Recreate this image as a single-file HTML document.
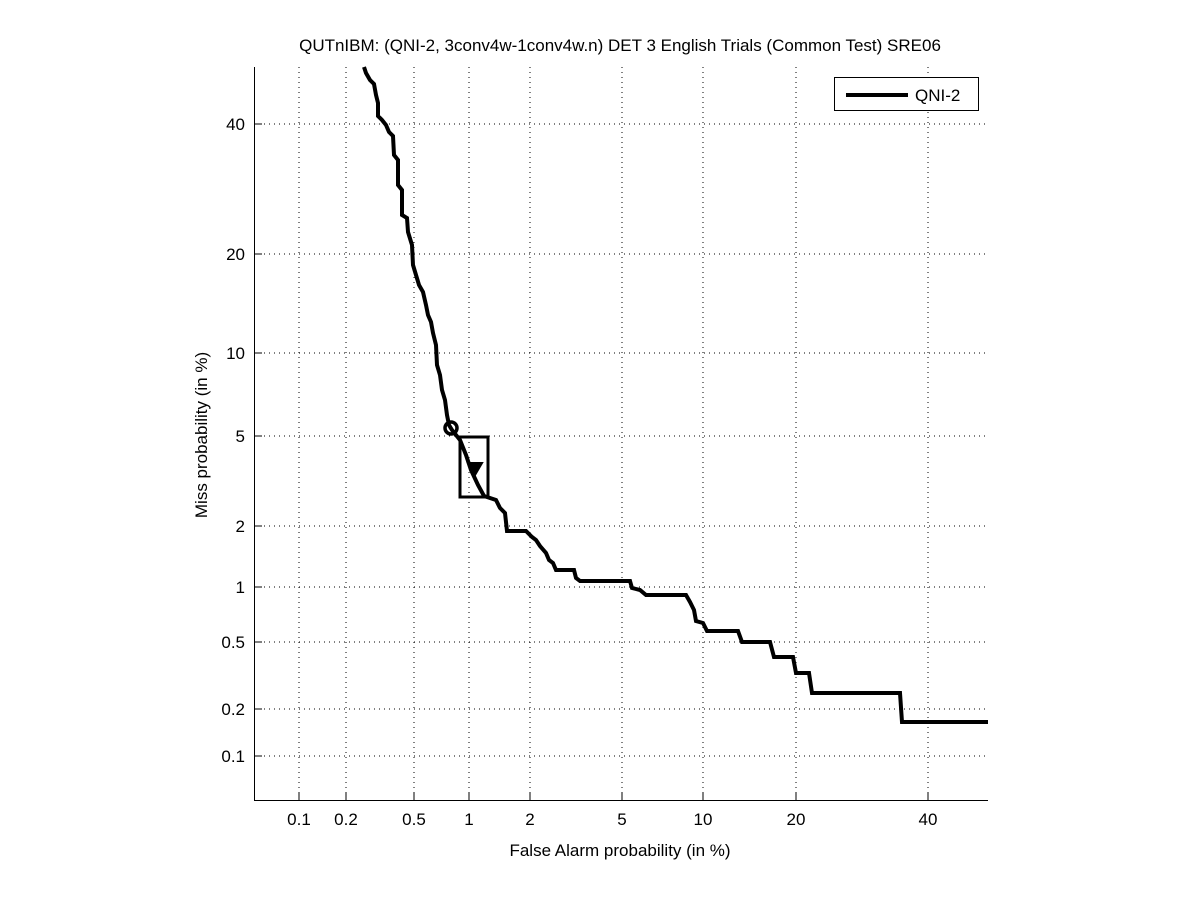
<!DOCTYPE html>
<html><head><style>body{margin:0;background:#fff}svg{display:block}text{font-family:"Liberation Sans",sans-serif;fill:#000}</style></head><body>
<svg width="1201" height="900" viewBox="0 0 1201 900">
<rect width="1201" height="900" fill="#fff"/>
<g stroke="#000" stroke-width="1" stroke-dasharray="1,4">
<line x1="299" y1="67" x2="299" y2="801"/><line x1="346" y1="67" x2="346" y2="801"/><line x1="414" y1="67" x2="414" y2="801"/><line x1="469" y1="67" x2="469" y2="801"/><line x1="530" y1="67" x2="530" y2="801"/><line x1="622" y1="67" x2="622" y2="801"/><line x1="703" y1="67" x2="703" y2="801"/><line x1="796" y1="67" x2="796" y2="801"/><line x1="928" y1="67" x2="928" y2="801"/>
<line x1="254" y1="124" x2="988" y2="124"/><line x1="254" y1="254" x2="988" y2="254"/><line x1="254" y1="353" x2="988" y2="353"/><line x1="254" y1="436" x2="988" y2="436"/><line x1="254" y1="526" x2="988" y2="526"/><line x1="254" y1="587" x2="988" y2="587"/><line x1="254" y1="642" x2="988" y2="642"/><line x1="254" y1="709" x2="988" y2="709"/><line x1="254" y1="756" x2="988" y2="756"/>
</g>
<g stroke="#000" stroke-width="1">
<line x1="254.5" y1="67" x2="254.5" y2="801"/><line x1="254" y1="800.5" x2="988" y2="800.5"/>
<line x1="299" y1="793" x2="299" y2="801"/><line x1="346" y1="793" x2="346" y2="801"/><line x1="414" y1="793" x2="414" y2="801"/><line x1="469" y1="793" x2="469" y2="801"/><line x1="530" y1="793" x2="530" y2="801"/><line x1="622" y1="793" x2="622" y2="801"/><line x1="703" y1="793" x2="703" y2="801"/><line x1="796" y1="793" x2="796" y2="801"/><line x1="928" y1="793" x2="928" y2="801"/>
<line x1="254" y1="124" x2="262" y2="124"/><line x1="254" y1="254" x2="262" y2="254"/><line x1="254" y1="353" x2="262" y2="353"/><line x1="254" y1="436" x2="262" y2="436"/><line x1="254" y1="526" x2="262" y2="526"/><line x1="254" y1="587" x2="262" y2="587"/><line x1="254" y1="642" x2="262" y2="642"/><line x1="254" y1="709" x2="262" y2="709"/><line x1="254" y1="756" x2="262" y2="756"/>
</g>
<g font-size="17" text-anchor="middle">
<text x="299" y="825">0.1</text><text x="346" y="825">0.2</text><text x="414" y="825">0.5</text><text x="469" y="825">1</text><text x="530" y="825">2</text><text x="622" y="825">5</text><text x="703" y="825">10</text><text x="796" y="825">20</text><text x="928" y="825">40</text>
</g>
<g font-size="17" text-anchor="end">
<text x="245" y="130">40</text><text x="245" y="260">20</text><text x="245" y="359">10</text><text x="245" y="442">5</text><text x="245" y="532">2</text><text x="245" y="593">1</text><text x="245" y="648">0.5</text><text x="245" y="715">0.2</text><text x="245" y="762">0.1</text>
</g>
<text x="620" y="51" font-size="17" text-anchor="middle">QUTnIBM: (QNI-2, 3conv4w-1conv4w.n) DET 3 English Trials (Common Test) SRE06</text>
<text x="620" y="856" font-size="17" text-anchor="middle">False Alarm probability (in %)</text>
<text transform="translate(207,435) rotate(-90)" font-size="17" text-anchor="middle">Miss probability (in %)</text>
<polyline fill="none" stroke="#000" stroke-width="4" points="364,67 366,73 370,80 374,84 376,95 378,103 378,116 382,120 386,125 389,132 393,136 394,155 398,160 398,185 402,190 402,215 407,218 408,232 412,245 413,265 416,275 419,285 423,292 426,305 428,315 431,322 433,333 436,345 437,365 440,375 442,390 445,400 447,415 449,425 452,430 460,440 466,455 471,470 478,485 484,496 490,498 496,500 500,508 505,513 507,531 526,531 532,537 536,540 540,546 546,553 549,560 553,563 556,570 574,570 576,578 580,581 630,581 632,588 640,590 646,595 686,595 690,602 694,610 696,621 703,623 707,631 738,631 742,642 770,642 774,657 793,657 796,673 809,673 812,693 900,693 902,722 988,722"/>
<circle cx="451" cy="428" r="6" fill="none" stroke="#000" stroke-width="3.5"/>
<rect x="460" y="437" width="28" height="60" fill="none" stroke="#000" stroke-width="3"/>
<polygon points="468,463 482,463 475,475" fill="#000" stroke="#000" stroke-width="2"/>
<rect x="834.5" y="77.5" width="144" height="33" fill="#fff" stroke="#000" stroke-width="1"/>
<line x1="846" y1="95" x2="908" y2="95" stroke="#000" stroke-width="4"/>
<text x="915" y="101" font-size="17">QNI-2</text>
</svg>
</body></html>
